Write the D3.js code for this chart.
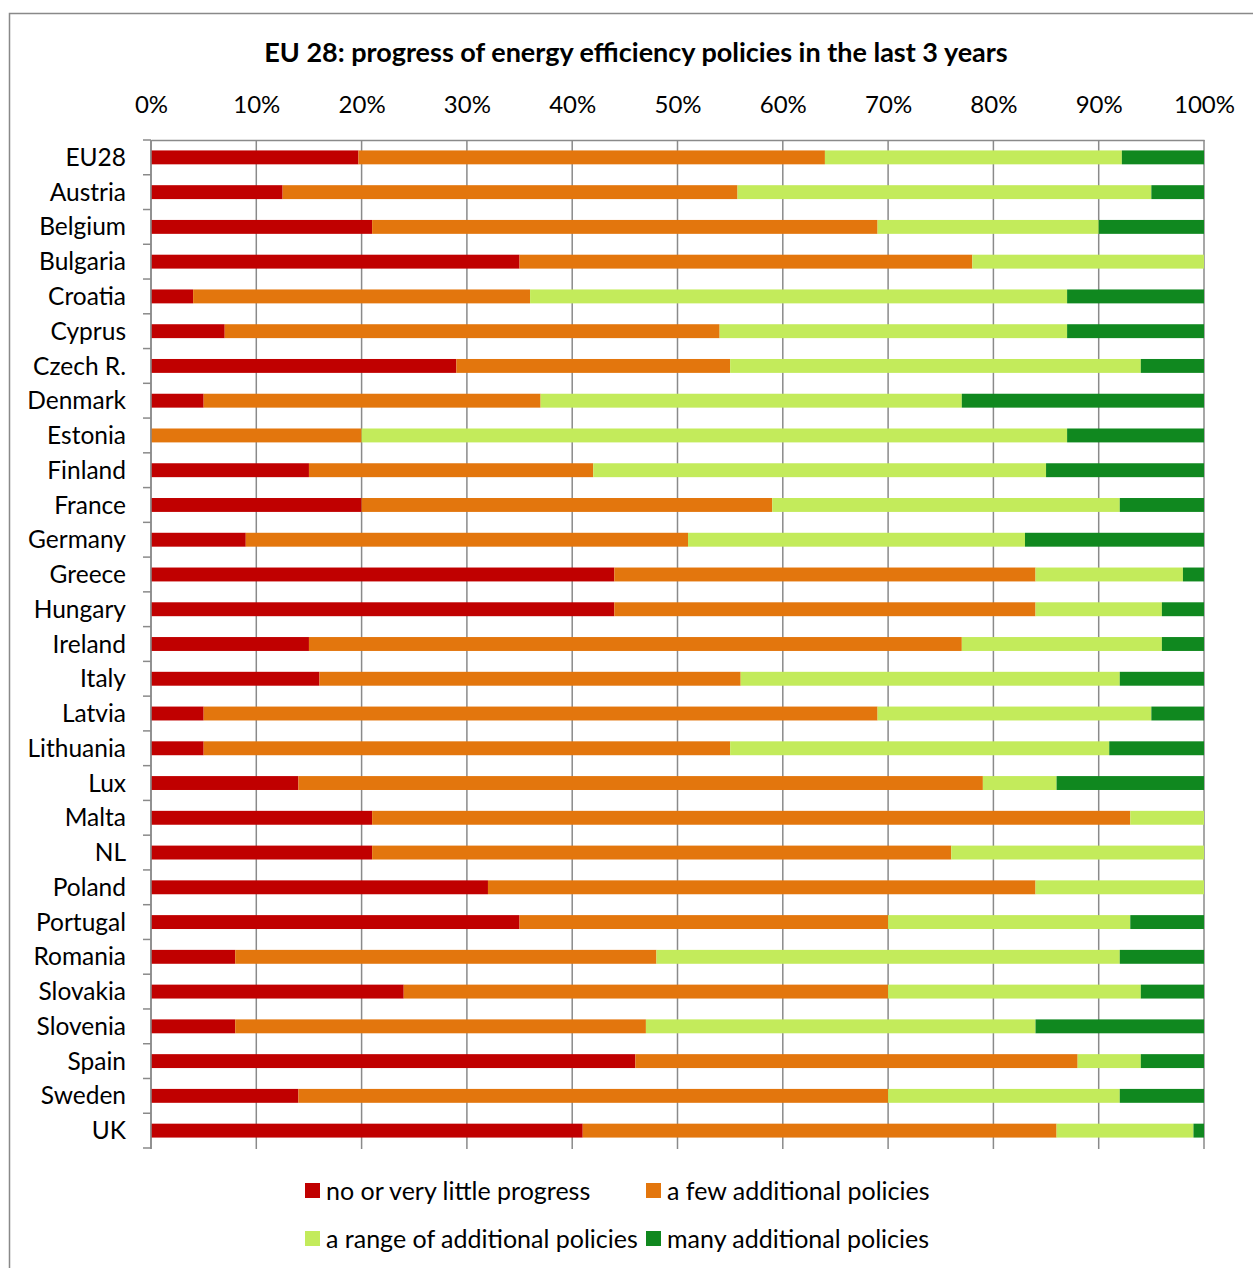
<!DOCTYPE html>
<html>
<head>
<meta charset="utf-8">
<script src="https://cdn.jsdelivr.net/npm/d3@7"></script>
<style>
  body { margin: 0; background: #fff; }
  text { font-family: Lato, "Open Sans", sans-serif; fill: #000; }
</style>
</head>
<body>
<script>
const countries = ['EU28', 'Austria', 'Belgium', 'Bulgaria', 'Croatia', 'Cyprus', 'Czech R.',
    'Denmark', 'Estonia', 'Finland', 'France', 'Germany', 'Greece', 'Hungary', 'Ireland',
    'Italy', 'Latvia', 'Lithuania', 'Lux', 'Malta', 'NL', 'Poland', 'Portugal', 'Romania',
    'Slovakia', 'Slovenia', 'Spain', 'Sweden', 'UK'];

const noProgress = [19.7, 12.5, 21, 35, 4, 7, 29, 5, 0, 15, 20, 9, 44, 44, 15,
    16, 5, 5, 14, 21, 21, 32, 35, 8, 24, 8, 46, 14, 41];
const fewPolicies = [44.3, 43.2, 48, 43, 32, 47, 26, 32, 20, 27, 39, 42, 40, 40, 62,
    40, 64, 50, 65, 72, 55, 52, 35, 40, 46, 39, 42, 56, 45];
const rangePolicies = [28.2, 39.3, 21, 22, 51, 33, 39, 40, 67, 43, 33, 32, 14, 12, 19,
    36, 26, 36, 7, 7, 24, 16, 23, 44, 24, 37, 6, 22, 13];
const manyPolicies = [7.8, 5, 10, 0, 13, 13, 6, 23, 13, 15, 8, 17, 2, 4, 4,
    8, 5, 9, 14, 0, 0, 0, 7, 8, 6, 16, 6, 8, 1];

const seriesNames = ['no or very little progress', 'a few additional policies',
    'a range of additional policies', 'many additional policies'];
const seriesColors = ['#c00000', '#e3760d', '#c3eb5b', '#10881f'];
const xTicks = [0, 10, 20, 30, 40, 50, 60, 70, 80, 90, 100];

const width = 1253;
const height = 1268;
const svg = d3.select('body')
    .append('svg')
    .attr('width', width)
    .attr('height', height);

// chart frame
svg.append('rect')
    .attr('x', 9.5)
    .attr('y', 13.5)
    .attr('width', 1300)
    .attr('height', 1300)
    .style('fill', 'none')
    .style('stroke', '#898989')
    .style('stroke-width', 1.5);

svg.append('text')
    .attr('x', 636)
    .attr('y', 62)
    .attr('text-anchor', 'middle')
    .style('font-size', '27px')
    .style('font-weight', 'bold')
    .text('EU 28: progress of energy efficiency policies in the last 3 years');

const plotLeft = 151, plotRight = 1204, plotTop = 140, plotBottom = 1148;

const x = d3.scaleLinear().domain([0, 100]).range([plotLeft, plotRight]);
const y = d3.scaleBand().domain(countries).range([plotTop, plotBottom]).paddingInner(0.6).paddingOuter(0.3);

// vertical gridlines
svg.append('g')
    .selectAll('line')
    .data(xTicks)
    .join('line')
    .attr('x1', d => x(d))
    .attr('x2', d => x(d))
    .attr('y1', plotTop)
    .attr('y2', plotBottom + 1)
    .style('stroke', '#8a8a8a')
    .style('stroke-width', 1.5);

// top axis
const xAxis = svg.append('g')
    .attr('transform', `translate(0,${plotTop})`)
    .call(d3.axisTop(x).tickValues(xTicks).tickFormat(d => d + '%').tickSize(0).tickPadding(27));
xAxis.select('.domain').style('stroke', '#8a8a8a').style('stroke-width', 1.5);
xAxis.selectAll('text')
    .style('font-size', '24px')
    .style('font-family', 'Lato, "Open Sans", sans-serif');

// stacked bars
const rows = countries.map((c, i) => ({
    country: c,
    v0: noProgress[i], v1: fewPolicies[i], v2: rangePolicies[i], v3: manyPolicies[i]
}));
const stack = d3.stack().keys(['v0', 'v1', 'v2', 'v3']);
const layers = stack(rows);

svg.append('g')
    .selectAll('g')
    .data(layers)
    .join('g')
    .style('fill', (d, i) => seriesColors[i])
    .selectAll('rect')
    .data(d => d)
    .join('rect')
    .attr('x', d => x(d[0]))
    .attr('y', d => y(d.data.country))
    .attr('width', d => x(Math.min(d[1], 100)) - x(d[0]))
    .attr('height', y.bandwidth());

// left axis with ticks between categories
const step = y.step();
const yAxis = svg.append('g');
yAxis.append('line')
    .attr('x1', plotLeft).attr('x2', plotLeft)
    .attr('y1', plotTop).attr('y2', plotBottom + 1)
    .style('stroke', '#8a8a8a')
    .style('stroke-width', 1.5);
yAxis.selectAll('.tk')
    .data(d3.range(countries.length + 1))
    .join('line')
    .attr('class', 'tk')
    .attr('x1', plotLeft - 8).attr('x2', plotLeft)
    .attr('y1', d => plotTop + d * step)
    .attr('y2', d => plotTop + d * step)
    .style('stroke', '#8a8a8a')
    .style('stroke-width', 1.5);
yAxis.selectAll('text')
    .data(countries)
    .join('text')
    .attr('x', 126)
    .attr('y', d => y(d) + y.bandwidth() / 2)
    .attr('dy', '0.35em')
    .attr('text-anchor', 'end')
    .style('font-size', '24.5px')
    .text(d => d);

// legend
const legendPos = [[305, 1191], [646, 1191], [305, 1239], [646, 1239]];
const legend = svg.append('g')
    .selectAll('g')
    .data(seriesNames)
    .join('g')
    .attr('transform', (d, i) => `translate(${legendPos[i][0]},${legendPos[i][1]})`);
legend.append('rect')
    .attr('x', 0).attr('y', -8)
    .attr('width', 15).attr('height', 15)
    .style('fill', (d, i) => seriesColors[i]);
legend.append('text')
    .attr('x', 21)
    .attr('dy', '0.35em')
    .style('font-size', '25px')
    .text(d => d);
</script>
</body>
</html>
